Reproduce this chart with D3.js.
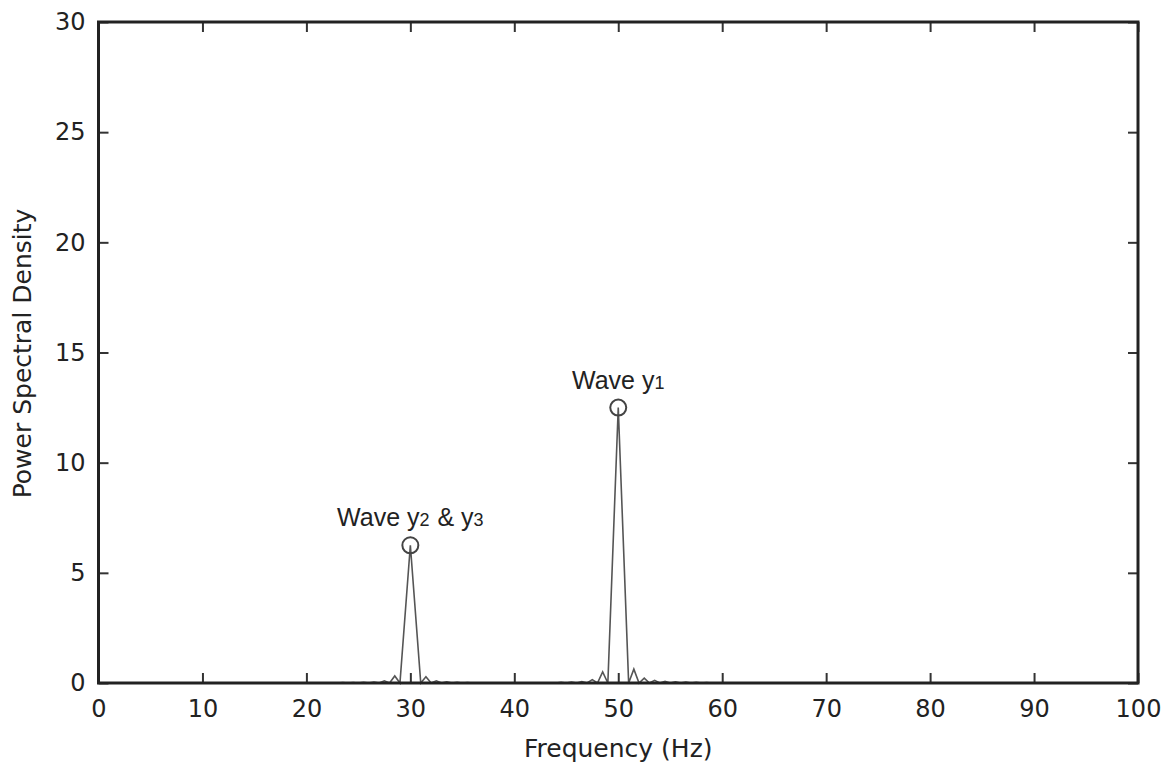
<!DOCTYPE html>
<html>
<head>
<meta charset="utf-8">
<script src="https://cdn.jsdelivr.net/npm/d3@7"></script>
<style>
  body { margin: 0; background: #fff; }
  #chart text { fill: #222; }
</style>
</head>
<body>
<div id="chart"></div>
<script>
// spectrum samples (Hz) and power spectral density
let freq = [0,
  23, 23.5, 24, 24.5, 25, 25.5, 26, 26.5, 27, 27.5, 28, 28.5, 29, 30, 31, 31.5, 32, 32.5, 33, 33.5, 34, 34.5, 35, 35.5, 36,
  44, 44.5, 45, 45.5, 46, 46.5, 47, 47.5, 48, 48.5, 49, 50, 51, 51.5, 52, 52.5, 53, 53.5, 54, 54.5, 55, 55.5, 56, 56.5, 57, 57.5, 58, 58.5, 59,
  100];
let psd = [0,
  0, 0.02, 0, 0.02, 0, 0.03, 0, 0.04, 0, 0.1, 0, 0.32, 0, 6.25, 0, 0.28, 0, 0.1, 0, 0.05, 0, 0.03, 0, 0.02, 0,
  0, 0.03, 0, 0.04, 0, 0.06, 0, 0.15, 0, 0.5, 0, 12.5, 0, 0.63, 0, 0.22, 0, 0.12, 0, 0.07, 0, 0.05, 0, 0.04, 0, 0.03, 0, 0.02, 0,
  0];

// marked peaks
let peakFreq = [30, 50];
let peakValue = [6.25, 12.5];
let peakName = ["y", "y"];
let peakSub = [["2", " & y", "3"], ["1"]];

let xTicks = [0, 10, 20, 30, 40, 50, 60, 70, 80, 90, 100];
let yTicks = [0, 5, 10, 15, 20, 25, 30];

let margin = { top: 22, bottom: 84, left: 98.5, right: 30 };
let width = 1168 - margin.left - margin.right;
let height = 767 - margin.top - margin.bottom;

let svg = d3
  .select("#chart")
  .append("svg")
  .attr("width", 1168)
  .attr("height", 767)
  .append("g")
  .attr("transform", `translate(${margin.left}, ${margin.top})`);

let xScale = d3.scaleLinear().domain([0, 100]).range([0, width]);
let yScale = d3.scaleLinear().domain([0, 30]).range([height, 0]);

let tickFont = "'DejaVu Sans', sans-serif";

// axes, ticks pointing inwards, mirrored on top and right
let styleAxis = (g) => {
  g.select(".domain").remove();
  g.selectAll(".tick line").attr("stroke", "#333").attr("stroke-width", 2);
  g.selectAll(".tick text")
    .style("font-family", tickFont)
    .style("font-size", "24px")
    .attr("fill", "#333");
};

svg
  .append("g")
  .attr("transform", `translate(0, ${height})`)
  .call(d3.axisBottom(xScale).tickValues(xTicks).tickSizeInner(-10).tickPadding(17))
  .call(styleAxis);

svg
  .append("g")
  .call(d3.axisTop(xScale).tickValues(xTicks).tickSizeInner(-10).tickFormat(""))
  .call(styleAxis);

svg
  .append("g")
  .call(d3.axisLeft(yScale).tickValues(yTicks).tickSizeInner(-10).tickPadding(13))
  .call(styleAxis);

svg
  .append("g")
  .attr("transform", `translate(${width}, 0)`)
  .call(d3.axisRight(yScale).tickValues(yTicks).tickSizeInner(-10).tickFormat(""))
  .call(styleAxis);

// spectrum line
svg
  .append("path")
  .datum(freq.map((f, i) => ({ f: f, v: psd[i] })))
  .attr("fill", "none")
  .attr("stroke", "#555")
  .attr("stroke-width", 1.6)
  .attr(
    "d",
    d3
      .line()
      .x((d) => xScale(d.f))
      .y((d) => yScale(d.v))
  );

// frame
svg
  .append("rect")
  .attr("width", width)
  .attr("height", height)
  .attr("fill", "none")
  .attr("stroke", "#222")
  .attr("stroke-width", 3);

// peak markers and labels
peakFreq.forEach((f, i) => {
  svg
    .append("circle")
    .attr("cx", xScale(f))
    .attr("cy", yScale(peakValue[i]))
    .attr("r", 8)
    .attr("fill", "none")
    .attr("stroke", "#444")
    .attr("stroke-width", 2);

  let label = svg
    .append("text")
    .attr("x", xScale(f))
    .attr("y", yScale(peakValue[i]) - 19)
    .attr("text-anchor", "middle")
    .style("font-family", "'Liberation Sans', Arial, sans-serif")
    .style("font-size", "25px");
  label.append("tspan").text("Wave " + peakName[i]);
  peakSub[i].forEach((s, j) => {
    label
      .append("tspan")
      .style("font-size", j % 2 === 0 ? "18px" : "25px")
      .attr("dx", j % 2 === 0 ? 0 : 1)
      .text(s);
  });
});

// axis titles
svg
  .append("text")
  .attr("x", width / 2)
  .attr("y", height + 74)
  .attr("text-anchor", "middle")
  .style("font-family", tickFont)
  .style("font-size", "25px")
  .attr("fill", "#333")
  .text("Frequency (Hz)");

svg
  .append("text")
  .attr("transform", `translate(${-margin.left + 31}, ${height / 2 + 1}) rotate(-90)`)
  .attr("text-anchor", "middle")
  .style("font-family", tickFont)
  .style("font-size", "25px")
  .attr("fill", "#333")
  .text("Power Spectral Density");
</script>
</body>
</html>
